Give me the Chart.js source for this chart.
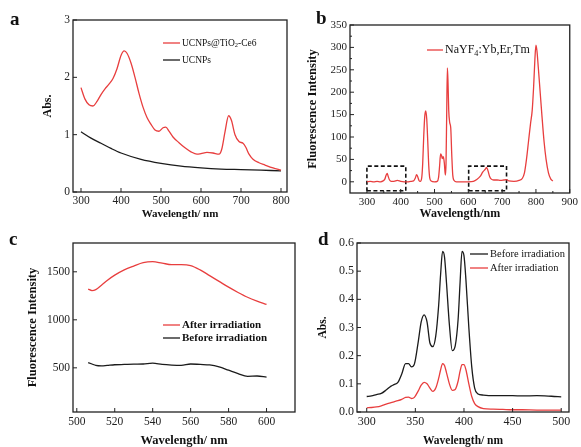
<!DOCTYPE html>
<html>
<head>
<meta charset="utf-8">
<script src="https://cdn.jsdelivr.net/npm/chart.js@4.4.1/dist/chart.umd.min.js"></script>
<style>
  body { margin: 0; background: #fff; width: 581px; height: 447px; position: relative; overflow: hidden; }
  canvas { position: absolute; left: 0; top: 0; }
</style>
</head>
<body>
<canvas id="pa" width="581" height="447"></canvas>
<canvas id="pb" width="581" height="447"></canvas>
<canvas id="pc" width="581" height="447"></canvas>
<canvas id="pd" width="581" height="447"></canvas>
<script>
// Panel a - absorption
const aWavelength = [300, 310, 320, 330, 340, 350, 360, 370, 380, 390, 400, 408, 415, 425, 435, 445, 455, 465, 475, 485, 495, 505, 512, 520, 530, 545, 560, 575, 590, 600, 615, 630, 645, 652, 660, 669, 676, 685, 695, 705, 712, 720, 730, 745, 760, 780, 800];
const aTiO2Ce6 = [1.82, 1.62, 1.52, 1.5, 1.58, 1.7, 1.8, 1.88, 1.98, 2.15, 2.38, 2.46, 2.42, 2.25, 2.0, 1.72, 1.48, 1.3, 1.18, 1.08, 1.06, 1.12, 1.13, 1.06, 0.96, 0.86, 0.77, 0.7, 0.66, 0.67, 0.69, 0.68, 0.66, 0.75, 1.05, 1.33, 1.25, 1.0, 0.88, 0.85, 0.78, 0.66, 0.57, 0.51, 0.47, 0.42, 0.38];
const aUcnpWavelength = [300, 325, 350, 375, 400, 450, 500, 550, 600, 650, 700, 750, 800];
const aUcnp = [1.05, 0.94, 0.85, 0.76, 0.68, 0.57, 0.5, 0.45, 0.42, 0.4, 0.39, 0.38, 0.37];
const aXTicks = [300, 400, 500, 600, 700, 800];
const aYTicks = [0, 1, 2, 3];

// Panel b - emission spectrum
const bWavelength = [300, 310, 320, 330, 340, 348, 353, 357, 360, 363, 367, 372, 380, 390, 400, 410, 420, 430, 438, 443, 447, 450, 454, 458, 462, 465, 468, 471, 474, 477, 480, 483, 486, 490, 500, 508, 512, 515, 518, 521, 523, 526, 529, 532, 534, 536, 538, 540, 542, 545, 548, 551, 554, 558, 565, 580, 600, 615, 625, 635, 643, 650, 654, 658, 663, 668, 675, 685, 695, 705, 712, 720, 735, 750, 760, 766, 772, 778, 784, 789, 793, 797, 800, 803, 807, 812, 818, 824, 830, 837, 844, 850];
const bIntensity = [0, 1, 0, 1, 0, 2, 6, 15, 19, 12, 4, 1, 1, 3, 1, 0, 0, 1, 2, 8, 16, 12, 3, 1, 8, 40, 100, 145, 158, 140, 90, 35, 8, 2, 0, 1, 10, 35, 62, 58, 52, 56, 42, 15, 40, 150, 254, 220, 160, 132, 120, 60, 15, 3, 0, 0, 0, 1, 5, 12, 22, 28, 32, 25, 12, 6, 4, 4, 3, 4, 5, 2, 1, 3, 8, 20, 50, 90, 130, 160, 210, 275, 305, 292, 255, 205, 145, 90, 50, 20, 6, 2];
const bBoxes = [[300, 415, -20, 35], [601, 713, -20, 35]];
const bXTicks = [300, 400, 500, 600, 700, 800, 900];
const bYTicks = [0, 50, 100, 150, 200, 250, 300, 350];

// Panel c - fluorescence before / after irradiation
const cWavelength = [506, 508, 510, 513, 516, 520, 525, 530, 535, 540, 545, 550, 555, 560, 565, 570, 575, 580, 585, 590, 595, 600];
const cAfter = [1320, 1305, 1315, 1360, 1410, 1465, 1520, 1560, 1595, 1605, 1590, 1575, 1575, 1565, 1520, 1460, 1400, 1340, 1285, 1235, 1195, 1160];
const cBefore = [555, 540, 525, 520, 525, 532, 535, 538, 540, 548, 535, 528, 525, 540, 535, 530, 510, 475, 440, 412, 415, 403];
const cXTicks = [500, 520, 540, 560, 580, 600];
const cYTicks = [500, 1000, 1500];

// Panel d - absorption before / after irradiation
const dWavelength = [300, 305, 310, 315, 320, 325, 328, 332, 336, 340, 343, 346, 349, 353, 356, 359, 362, 365, 368, 371, 374, 376, 378, 380, 382, 385, 388, 391, 394, 396, 398, 400, 402, 405, 408, 411, 414, 420, 430, 440, 450, 460, 475, 490, 500];
const dBefore = [0.055, 0.057, 0.062, 0.066, 0.078, 0.092, 0.097, 0.105, 0.135, 0.172, 0.172, 0.16, 0.17, 0.25, 0.32, 0.345, 0.32, 0.245, 0.232, 0.27, 0.38, 0.49, 0.57, 0.55, 0.46, 0.31, 0.218, 0.235, 0.33, 0.46, 0.57, 0.555, 0.47, 0.3, 0.16, 0.085, 0.065, 0.06, 0.058, 0.058, 0.058, 0.057, 0.058, 0.056, 0.054];
const dAfter = [0.015, 0.016, 0.018, 0.022, 0.028, 0.033, 0.036, 0.04, 0.045, 0.052, 0.053, 0.048, 0.052, 0.075, 0.095, 0.105, 0.1, 0.085, 0.073, 0.085, 0.12, 0.15, 0.172, 0.165, 0.14, 0.1, 0.077, 0.08, 0.11, 0.145, 0.168, 0.168, 0.15, 0.1, 0.055, 0.03, 0.02, 0.012, 0.01, 0.009, 0.008, 0.008, 0.007, 0.007, 0.007];
const dXTicks = [300, 350, 400, 450, 500];
const dYTicks = [0, 0.1, 0.2, 0.3, 0.4, 0.5, 0.6];

const FONT = "'Liberation Serif', 'Times New Roman', serif";
const RED = 'rgb(232, 62, 62)';
const BLACK = '#1b1b1b';
const W = 581, H = 447;

const xy = (xs, ys) => xs.map((x, i) => ({ x: x, y: ys[i] }));

// rectangles as closed paths, separated by gaps
const boxPath = (boxes) => {
  const pts = [];
  boxes.forEach(([x0, x1, y0, y1]) => {
    pts.push({ x: x0, y: y0 }, { x: x1, y: y0 }, { x: x1, y: y1 }, { x: x0, y: y1 }, { x: x0, y: y0 }, { x: x0, y: null });
  });
  return pts;
};

// draw text with optional subscripts
function drawRich(ctx, segs, x, y, size, bold) {
  segs.forEach((s) => {
    const fs = s.sub ? size * 0.68 : size;
    ctx.font = (bold ? 'bold ' : '') + fs + 'px ' + FONT;
    ctx.fillText(s.t, x, s.sub ? y + size * 0.28 : y);
    x += ctx.measureText(s.t).width;
  });
}

// frame, inner ticks, legend and panel letter
function framePlugin(p) {
  return {
    id: 'frame',
    afterDraw(chart) {
      const { ctx, chartArea: a, scales } = chart;
      ctx.save();
      ctx.strokeStyle = '#222';
      ctx.lineWidth = 1.3;
      ctx.strokeRect(a.left, a.top, a.right - a.left, a.bottom - a.top);
      ctx.lineWidth = 1;
      ctx.beginPath();
      const tick = (vals, len) => {
        vals.forEach((v) => {
          const px = scales.x.getPixelForValue(v);
          ctx.moveTo(px, a.bottom); ctx.lineTo(px, a.bottom - len);
        });
      };
      const tickY = (vals, len) => {
        vals.forEach((v) => {
          const py = scales.y.getPixelForValue(v);
          ctx.moveTo(a.left, py); ctx.lineTo(a.left + len, py);
        });
      };
      tick(p.xTicks, 4);
      tickY(p.yTicks, 4);
      if (p.minor) {
        const mx = p.xTicks.slice(0, -1).map((v, i) => (v + p.xTicks[i + 1]) / 2);
        const my = p.yTicks.slice(0, -1).map((v, i) => (v + p.yTicks[i + 1]) / 2);
        tick(mx, 2);
        tickY(my, 2);
      }
      ctx.stroke();

      // legend
      ctx.textBaseline = 'middle';
      ctx.fillStyle = '#111';
      p.legend.forEach((it) => {
        ctx.strokeStyle = it.color;
        ctx.lineWidth = 1.3;
        ctx.beginPath();
        ctx.moveTo(it.x, it.y); ctx.lineTo(it.x + it.len, it.y);
        ctx.stroke();
        drawRich(ctx, it.label, it.x + it.len + 2, it.y, p.legendSize, p.legendBold);
      });

      // panel letter
      ctx.textBaseline = 'alphabetic';
      ctx.font = 'bold 19px ' + FONT;
      ctx.fillText(p.letter, p.letterX, p.letterY);
      ctx.restore();
    },
  };
}

function makePanel(id, p) {
  const yTitleLine = p.yTitleSize * 1.2;
  const xTitleLine = p.xTitleSize * 1.2;
  const padLeft = p.yTitleX - yTitleLine / 2;
  const yWidth = p.box.left - padLeft;
  const xHeight = p.xTitleY + xTitleLine / 2 - p.box.bottom;
  const padBottom = H - p.box.bottom - xHeight;
  const tickFont = { family: FONT, size: p.tickSize };

  new Chart(document.getElementById(id), {
    type: 'line',
    data: { datasets: p.datasets },
    options: {
      responsive: false,
      animation: false,
      events: [],
      layout: { padding: { left: padLeft, top: p.box.top, right: W - p.box.right, bottom: padBottom } },
      plugins: { legend: { display: false }, tooltip: { enabled: false } },
      elements: { point: { radius: 0 } },
      scales: {
        x: {
          type: 'linear',
          min: p.xMin,
          max: p.xMax,
          afterBuildTicks: (s) => { s.ticks = p.xTicks.map((v) => ({ value: v })); },
          afterFit: (s) => { s.height = xHeight; },
          grid: { display: false, drawTicks: false },
          border: { display: false },
          ticks: { font: tickFont, color: '#222', padding: p.xTickPad || 3, maxRotation: 0, autoSkip: false },
          title: { display: true, text: p.xTitle, color: '#111', padding: 0, font: { family: FONT, size: p.xTitleSize, weight: 'bold' } },
        },
        y: {
          type: 'linear',
          min: p.yMin,
          max: p.yMax,
          afterBuildTicks: (s) => { s.ticks = p.yTicks.map((v) => ({ value: v })); },
          afterFit: (s) => { s.width = yWidth; },
          grid: { display: false, drawTicks: false },
          border: { display: false },
          ticks: { font: tickFont, color: '#222', padding: 3, autoSkip: false, callback: p.yFmt || ((v) => v) },
          title: { display: true, text: p.yTitle, color: '#111', padding: 0, font: { family: FONT, size: p.yTitleSize, weight: 'bold' } },
        },
      },
    },
    plugins: [framePlugin(p)],
  });
}

const line = (data, color, extra) => Object.assign({
  data: data, borderColor: color, borderWidth: 1.3, fill: false,
  pointRadius: 0, cubicInterpolationMode: 'monotone',
}, extra || {});

makePanel('pa', {
  box: { left: 73, top: 20, right: 287, bottom: 192 },
  xMin: 280, xMax: 815, yMin: 0, yMax: 3,
  xTicks: aXTicks, yTicks: aYTicks,
  xTitle: 'Wavelength/ nm', yTitle: 'Abs.',
  xTitleSize: 11, yTitleSize: 12, tickSize: 11.5, xTickPad: 2,
  yTitleX: 48, xTitleY: 214,
  datasets: [
    line(xy(aWavelength, aTiO2Ce6), RED),
    line(xy(aUcnpWavelength, aUcnp), BLACK),
  ],
  legend: [
    { x: 163, y: 43, len: 17, color: RED, label: [{ t: 'UCNPs@TiO' }, { t: '2', sub: true }, { t: '-Ce6' }] },
    { x: 163, y: 60, len: 17, color: BLACK, label: [{ t: 'UCNPs' }] },
  ],
  legendSize: 9.5, legendBold: false,
  letter: 'a', letterX: 10, letterY: 25,
});

makePanel('pb', {
  box: { left: 350, top: 25, right: 572, bottom: 193 },
  xMin: 250, xMax: 900, yMin: -25, yMax: 350,
  xTicks: bXTicks, yTicks: bYTicks, minor: true,
  xTitle: 'Wavelength/nm', yTitle: 'Fluorescence Intensity',
  xTitleSize: 12, yTitleSize: 12.5, tickSize: 11,
  yTitleX: 313, xTitleY: 214,
  datasets: [
    line(xy(bWavelength, bIntensity), RED),
    line(boxPath(bBoxes), '#111', { borderDash: [4, 2.5], borderWidth: 1.6, cubicInterpolationMode: 'default', tension: 0, spanGaps: false }),
  ],
  legend: [
    { x: 427, y: 50, len: 16, color: RED, label: [{ t: 'NaYF' }, { t: '4', sub: true }, { t: ':Yb,Er,Tm' }] },
  ],
  legendSize: 12, legendBold: false,
  letter: 'b', letterX: 316, letterY: 24,
});

makePanel('pc', {
  box: { left: 73, top: 243, right: 295, bottom: 412 },
  xMin: 498, xMax: 615, yMin: 40, yMax: 1800,
  xTicks: cXTicks, yTicks: cYTicks,
  xTitle: 'Wavelength/ nm', yTitle: 'Fluorescence Intensity',
  xTitleSize: 12.5, yTitleSize: 12.5, tickSize: 11.5,
  yTitleX: 33, xTitleY: 441,
  datasets: [
    line(xy(cWavelength, cAfter), RED),
    line(xy(cWavelength, cBefore), BLACK),
  ],
  legend: [
    { x: 163, y: 325, len: 17, color: RED, label: [{ t: 'After irradiation' }] },
    { x: 163, y: 338, len: 17, color: BLACK, label: [{ t: 'Before irradiation' }] },
  ],
  legendSize: 11, legendBold: true,
  letter: 'c', letterX: 9, letterY: 245,
});

makePanel('pd', {
  box: { left: 357, top: 243, right: 569, bottom: 412 },
  xMin: 290, xMax: 508, yMin: 0, yMax: 0.6,
  xTicks: dXTicks, yTicks: dYTicks,
  xTitle: 'Wavelength/ nm', yTitle: 'Abs.',
  xTitleSize: 11.5, yTitleSize: 11.5, tickSize: 12,
  yTitleX: 323, xTitleY: 441,
  yFmt: (v) => v.toFixed(1),
  datasets: [
    line(xy(dWavelength, dBefore), BLACK),
    line(xy(dWavelength, dAfter), RED),
  ],
  legend: [
    { x: 470, y: 254, len: 18, color: BLACK, label: [{ t: 'Before irradiation' }] },
    { x: 470, y: 268, len: 18, color: RED, label: [{ t: 'After irradiation' }] },
  ],
  legendSize: 10.5, legendBold: false,
  letter: 'd', letterX: 318, letterY: 245,
});
</script>
</body>
</html>
